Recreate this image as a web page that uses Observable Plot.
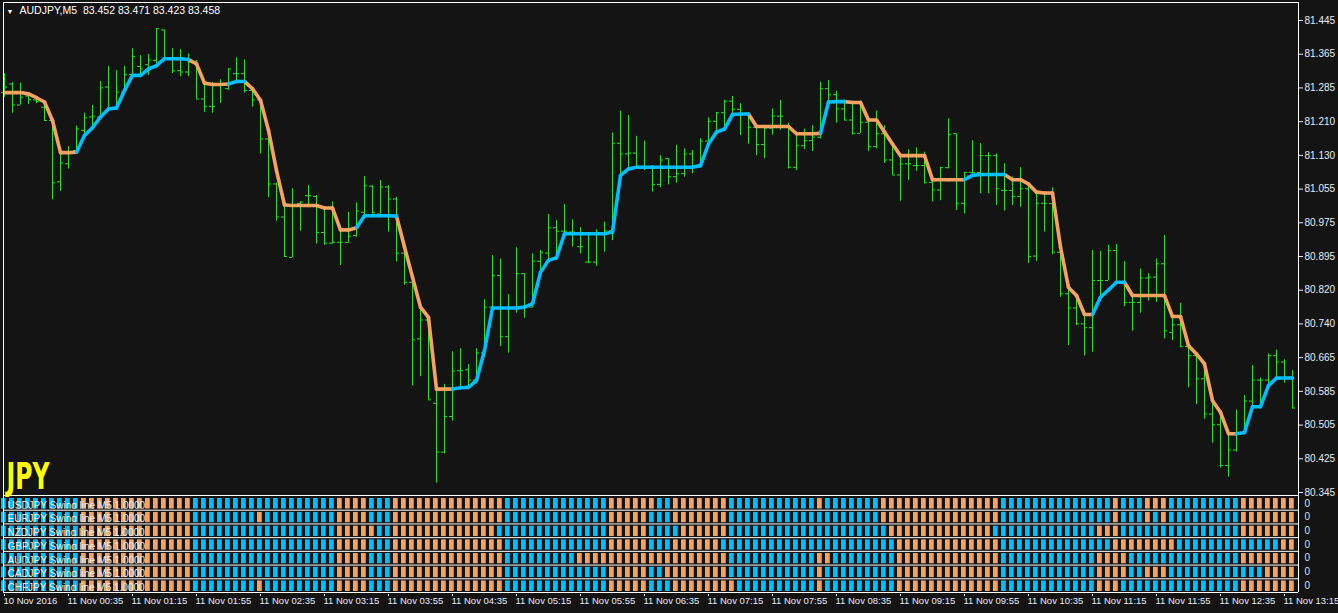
<!DOCTYPE html>
<html><head><meta charset="utf-8">
<script src="https://cdn.jsdelivr.net/npm/d3@7"></script>
<script src="https://cdn.jsdelivr.net/npm/@observablehq/plot@0.6"></script>
<style>
html,body{margin:0;padding:0;background:#141414;overflow:hidden}
#chart{width:1338px;height:613px}
svg{display:block;overflow:visible}
</style></head><body><div id="chart"></div>
<script>
// ---------- data ----------
const symbol = "AUDJPY,M5";
const headerQuote = ["83.452", "83.471", "83.423", "83.458"];
const currencyTag = "JPY";

const xTickLabels = ["10 Nov 2016","11 Nov 00:35","11 Nov 01:15","11 Nov 01:55","11 Nov 02:35","11 Nov 03:15",
  "11 Nov 03:55","11 Nov 04:35","11 Nov 05:15","11 Nov 05:55","11 Nov 06:35","11 Nov 07:15","11 Nov 07:55",
  "11 Nov 08:35","11 Nov 09:15","11 Nov 09:55","11 Nov 10:35","11 Nov 11:15","11 Nov 11:55","11 Nov 12:35","11 Nov 13:15"];
const barsPerXTick = 8;

const yTickLabels = ["81.445","81.365","81.285","81.210","81.130","81.055","80.975","80.895",
  "80.820","80.740","80.665","80.585","80.505","80.425","80.345"];

const open = [
81.277,81.297,81.248,81.269,81.260,81.243,81.212,81.069,81.111,81.142,
81.189,81.220,81.220,81.290,81.241,81.278,81.319,81.338,81.342,81.352,
81.423,81.356,81.328,81.325,81.348,81.262,81.245,81.297,81.286,81.321,
81.321,81.282,81.260,81.169,81.064,80.987,80.893,81.018,81.037,81.035,
80.951,80.926,80.928,80.928,80.944,80.998,81.059,80.994,81.057,81.029,
80.903,80.835,80.703,80.747,80.553,80.439,80.522,80.629,80.631,80.607,
80.670,80.777,80.851,80.708,80.775,80.855,80.777,80.884,80.903,80.962,
80.954,80.952,80.918,80.882,80.882,80.948,80.955,81.159,81.134,81.136,
81.105,81.105,81.063,81.123,81.081,81.088,81.134,81.103,81.164,81.210,
81.230,81.257,81.238,81.226,81.196,81.156,81.194,81.222,81.196,81.103,
81.153,81.165,81.173,81.286,81.272,81.239,81.213,81.182,81.208,81.151,
81.181,81.120,81.085,81.111,81.107,81.107,81.068,81.050,81.102,81.181,
81.019,81.091,81.091,81.130,81.130,81.049,81.049,81.035,81.053,80.896,
81.019,81.018,80.905,80.808,80.775,80.738,80.729,80.839,80.839,80.909,
80.835,80.788,80.788,80.845,80.847,80.878,80.718,80.736,80.685,80.664,
80.610,80.528,80.503,80.408,80.444,80.482,80.558,80.607,80.607,80.664,
80.649,80.614];
const high = [
81.321,81.300,81.299,81.270,81.265,81.247,81.212,81.134,81.151,81.199,
81.229,81.247,81.303,81.338,81.328,81.338,81.379,81.363,81.366,81.426,
81.423,81.379,81.377,81.367,81.352,81.301,81.301,81.307,81.332,81.358,
81.353,81.282,81.260,81.169,81.066,81.011,81.053,81.022,81.060,81.037,
81.010,81.022,80.957,80.998,81.020,81.081,81.060,81.072,81.060,81.033,
80.913,80.835,80.769,80.755,80.584,80.597,80.673,80.680,80.643,80.680,
80.794,80.897,80.889,80.806,80.915,80.855,80.901,80.909,80.993,80.979,
81.016,80.980,80.962,80.944,80.957,80.975,81.183,81.234,81.224,81.175,
81.164,81.107,81.130,81.123,81.154,81.146,81.142,81.169,81.218,81.230,
81.259,81.268,81.251,81.227,81.200,81.195,81.239,81.259,81.206,81.185,
81.192,81.200,81.301,81.305,81.280,81.259,81.251,81.251,81.212,81.234,
81.200,81.154,81.128,81.144,81.148,81.138,81.080,81.103,81.216,81.181,
81.091,81.165,81.158,81.137,81.134,81.111,81.080,81.102,81.060,81.045,
81.041,81.055,80.909,80.820,80.804,80.769,80.909,80.907,80.921,80.923,
80.883,80.800,80.866,80.855,80.889,80.944,80.755,80.786,80.687,80.668,
80.645,80.551,80.528,80.482,80.537,80.571,80.641,80.612,80.668,80.677,
80.654,80.629];
const low = [
81.266,81.229,81.248,81.249,81.251,81.212,81.027,81.047,81.099,81.134,
81.177,81.189,81.212,81.239,81.239,81.278,81.317,81.313,81.317,81.344,
81.352,81.321,81.314,81.314,81.262,81.231,81.229,81.252,81.282,81.301,
81.276,81.243,81.134,81.032,80.977,80.893,80.892,80.954,81.014,80.924,
80.921,80.924,80.874,80.926,80.940,80.990,80.994,80.994,80.952,80.882,
80.828,80.593,80.615,80.561,80.367,80.435,80.511,80.590,80.590,80.598,
80.660,80.761,80.685,80.670,80.763,80.751,80.775,80.855,80.886,80.889,
80.948,80.917,80.901,80.878,80.872,80.905,80.932,81.080,81.103,81.103,
81.095,81.045,81.055,81.062,81.066,81.080,81.088,81.103,81.151,81.181,
81.195,81.220,81.177,81.157,81.130,81.123,81.178,81.189,81.099,81.095,
81.144,81.140,81.169,81.255,81.206,81.212,81.178,81.182,81.140,81.146,
81.112,81.085,81.024,81.072,81.094,81.064,81.022,81.025,81.099,81.002,
80.994,81.088,81.041,81.041,81.014,81.001,81.014,81.010,80.879,80.884,
80.952,80.899,80.800,80.687,80.734,80.663,80.672,80.800,80.839,80.835,
80.778,80.721,80.763,80.791,80.788,80.703,80.699,80.684,80.589,80.550,
80.516,80.460,80.402,80.381,80.439,80.482,80.544,80.551,80.598,80.614,
80.600,80.540];
const close = [
81.290,81.248,81.266,81.261,81.256,81.212,81.067,81.113,81.138,81.192,
81.218,81.222,81.288,81.241,81.278,81.319,81.361,81.332,81.353,81.426,
81.356,81.328,81.325,81.348,81.262,81.245,81.245,81.297,81.332,81.321,
81.282,81.260,81.169,81.064,80.987,80.895,81.014,81.022,81.037,80.951,
80.926,80.928,80.928,80.942,81.001,81.060,80.997,81.057,81.029,80.903,
80.835,80.701,80.747,80.561,80.439,80.522,80.628,80.629,80.607,80.670,
80.777,80.851,80.708,80.775,80.855,80.777,80.884,80.905,80.962,80.954,
80.954,80.952,80.918,80.882,80.948,80.955,81.159,81.134,81.136,81.105,
81.105,81.063,81.120,81.081,81.088,81.134,81.103,81.164,81.210,81.230,
81.257,81.238,81.227,81.196,81.156,81.194,81.222,81.222,81.103,81.153,
81.165,81.173,81.286,81.272,81.239,81.213,81.182,81.208,81.151,81.181,
81.120,81.085,81.111,81.111,81.107,81.068,81.050,81.102,81.179,81.019,
81.091,81.091,81.130,81.130,81.053,81.049,81.035,81.053,80.895,81.019,
81.019,80.905,80.808,80.775,80.738,80.729,80.839,80.839,80.909,80.835,
80.788,80.788,80.845,80.847,80.878,80.722,80.736,80.685,80.664,80.610,
80.528,80.503,80.408,80.444,80.482,80.558,80.607,80.607,80.664,80.649,
80.614,80.542];
const swing = [
81.277,81.277,81.277,81.274,81.265,81.255,81.212,81.137,81.137,81.138,
81.177,81.195,81.220,81.239,81.241,81.282,81.317,81.317,81.332,81.340,
81.356,81.356,81.356,81.354,81.344,81.299,81.296,81.296,81.297,81.303,
81.303,81.286,81.259,81.189,81.095,81.015,81.014,81.014,81.014,81.014,
81.008,81.008,80.957,80.957,80.962,80.990,80.990,80.990,80.990,80.989,
80.917,80.847,80.777,80.753,80.586,80.586,80.586,80.589,80.590,80.606,
80.676,80.775,80.775,80.775,80.775,80.777,80.785,80.858,80.886,80.892,
80.948,80.948,80.948,80.948,80.948,80.948,80.952,81.084,81.099,81.103,
81.103,81.103,81.103,81.103,81.103,81.103,81.103,81.107,81.157,81.185,
81.192,81.226,81.227,81.227,81.198,81.198,81.198,81.198,81.198,81.181,
81.181,81.181,81.182,81.255,81.256,81.256,81.254,81.254,81.213,81.213,
81.185,81.157,81.130,81.130,81.130,81.130,81.074,81.074,81.074,81.074,
81.074,81.084,81.086,81.086,81.086,81.086,81.074,81.074,81.064,81.045,
81.043,81.043,80.917,80.823,80.804,80.760,80.760,80.800,80.817,80.835,
80.835,80.804,80.804,80.804,80.804,80.804,80.755,80.755,80.687,80.668,
80.645,80.559,80.532,80.482,80.482,80.485,80.545,80.545,80.594,80.612,
80.612,80.612];
// swing line direction as run lengths, first run "down"
const swingRuns = [9,14,5,2,14,5,7,37,9,3,15,5,11,4,14,8];

// sub-window rows: run lengths of up/down cells, first run "up"
const rowNames = ["USDJPY","EURJPY","NZDJPY","GBPJPY","AUDJPY","CADJPY","CHFJPY"];
const rowSuffix = " Swing line M5 1.0000";
const rowValue = "0";
const usdjpyRuns = [10,14,18,4,3,14,13,6,2,7,11,1,7,15,14,1,3,3,9,7];
const eurjpyRuns = [10,14,8,1,9,4,3,14,13,5,3,7,19,15,14,1,3,1,1,1,9,7];
const nzdjpyRuns = [10,14,18,5,2,13,14,5,4,6,20,13,13,3,15,7];
const gbpjpyRuns = [10,14,18,4,3,14,13,5,3,6,22,13,14,8,13,2];
const audjpyRuns = [10,14,18,4,3,14,9,19,11,2,8,13,12,4,14,7];
const cadjpyRuns = [10,14,18,4,3,14,13,5,2,8,11,1,9,13,12,4,2,3,12,4];
const chfjpyRuns = [10,14,8,1,9,4,3,14,13,5,3,8,10,1,9,13,12,3,15,7];

// ---------- styling ----------
const BG = "#141414", UP = "#00bfff", DOWN = "#f4a460", BAR = "#22e622", TXT = "#e6ecf5";
const FONT = "'Liberation Sans', Arial, sans-serif";
const W = 1338, ML = 3, MR = 40, PX_PER_BAR = 8;

function expand(runs, first) {
  const out = []; let dir = first;
  for (const n of runs) { for (let k = 0; k < n; k++) out.push(dir); dir = dir === "up" ? "down" : "up"; }
  return out;
}

const n = open.length;
const xStart = -0.125;
const xDomain = [xStart, xStart + (W - ML - MR) / PX_PER_BAR];
const xTickIdx = xTickLabels.map((_, k) => k * barsPerXTick);

const bars = d3.range(n).map(i => ({i, open: open[i], high: high[i], low: low[i], close: close[i]}));
const swingDir = expand(swingRuns, "down");
const segs = d3.range(n - 1).map(i => ({i, s0: swing[i], s1: swing[i + 1], dir: swingDir[i]}));

// y layout: first label at y=20, last label at y=492 inside a frame spanning y=2..495
const yTop = +yTickLabels[0], yBot = +yTickLabels[yTickLabels.length - 1];
const yStep = (yTop - yBot) / (yTickLabels.length - 1);
const pxPerPrice = (492 - 20) / (yTop - yBot);
const yDomain = [yBot - (495 - 492) / pxPerPrice, yTop + (20 - 2) / pxPerPrice];
const yTicks = yTickLabels.map((_, k) => yTop - k * yStep);

const main = Plot.plot({
  width: W, height: 496, marginLeft: ML, marginRight: MR, marginTop: 2, marginBottom: 1,
  style: {background: "transparent", color: TXT, fontFamily: FONT, fontSize: "10px", overflow: "visible"},
  x: {domain: xDomain, axis: null},
  y: {domain: yDomain, axis: "right", ticks: yTicks, label: null, tickSize: 4, tickPadding: 2,
      tickFormat: d => yTickLabels[Math.round((yTop - d) / yStep)]},
  marks: [
    Plot.ruleX(bars, {x: "i", y1: "low", y2: "high", stroke: BAR, strokeWidth: 1}),
    Plot.ruleY(bars, {y: "open", x1: d => d.i - 0.375, x2: "i", stroke: BAR}),
    Plot.ruleY(bars, {y: "close", x1: "i", x2: d => d.i + 0.375, stroke: BAR}),
    Plot.link(segs.filter(d => d.dir === "down"), {x1: "i", x2: d => d.i + 1, y1: "s0", y2: "s1",
      stroke: DOWN, strokeWidth: 3.6, strokeLinecap: "round"}),
    Plot.link(segs.filter(d => d.dir === "up"), {x1: "i", x2: d => d.i + 1, y1: "s0", y2: "s1",
      stroke: UP, strokeWidth: 3.6, strokeLinecap: "round"}),
    Plot.frame({stroke: "#ffffff"}),
    Plot.text(["\u25BC"], {frameAnchor: "top-left", dx: 6.5, dy: 9, fontSize: 7, fill: "#ffffff",
      textAnchor: "middle", lineAnchor: "middle"}),
    Plot.text([symbol + "\u00a0\u00a0" + headerQuote.join(" ")], {frameAnchor: "top-left", dx: 16, dy: 8.5,
      fontSize: 10.5, fill: "#ffffff", textAnchor: "start", lineAnchor: "middle"}),
    Plot.text([currencyTag], {frameAnchor: "bottom-left", dx: 3, dy: -7, textAnchor: "start", lineAnchor: "bottom",
      fill: "#ffff00", fontSize: 37, fontWeight: "bold", fontFamily: "'DejaVu Sans Condensed', 'DejaVu Sans', sans-serif"})
  ]
});
d3.select(main).selectAll("text").filter(function() { return this.textContent === currencyTag; })
  .attr("textLength", 43).attr("lengthAdjust", "spacingAndGlyphs");

// ---------- sub-window ----------
const rowRuns = [usdjpyRuns, eurjpyRuns, nzdjpyRuns, gbpjpyRuns, audjpyRuns, cadjpyRuns, chfjpyRuns];
const cells = [];
rowRuns.forEach((runs, r) => expand(runs, "up").forEach((dir, i) => cells.push({row: r, i, dir})));

const panelMarks = [];
rowNames.forEach((name, r) => {
  const rc = cells.filter(c => c.row === r);
  panelMarks.push(
    Plot.rect(rc.filter(c => c.dir === "up"), {x1: d => d.i - 0.375, x2: d => d.i + 0.22, y1: "row",
      y2: d => d.row + 1, insetTop: 2, insetBottom: 1, fill: UP}),
    Plot.rect(rc.filter(c => c.dir === "down"), {x1: d => d.i - 0.375, x2: d => d.i + 0.22, y1: "row",
      y2: d => d.row + 1, insetTop: 2, insetBottom: 1, fill: DOWN}),
    Plot.text([name + rowSuffix], {x: xDomain[0], y: r + 1, dx: 4, dy: -1.5, textAnchor: "start",
      lineAnchor: "bottom", fill: "#f0f0f0", fontSize: 10})
  );
});
panelMarks.push(
  Plot.ruleY(d3.range(1, rowNames.length + 1), {stroke: BG, strokeWidth: 3}),
  Plot.ruleY(d3.range(1, rowNames.length + 1), {stroke: "#ffffff"}),
  Plot.ruleX(xDomain, {stroke: "#ffffff"}),
  Plot.text(rowNames, {x: xDomain[1], y: (d, r) => r + 0.5, dx: 6, text: () => rowValue, textAnchor: "start",
    fill: "#cfe0f5", fontSize: 10}),
  Plot.text(xTickIdx, {x: d => d, text: (d, k) => xTickLabels[k], frameAnchor: "bottom", dy: 5, dx: -1,
    lineAnchor: "top", textAnchor: "start", fill: TXT, fontSize: 9.5})
);

const panel = Plot.plot({
  width: W, height: 117, marginLeft: ML, marginRight: MR, marginTop: 0, marginBottom: 21,
  style: {background: "transparent", color: TXT, fontFamily: FONT, fontSize: "10px"},
  x: {domain: xDomain, axis: "bottom", ticks: xTickIdx, tickFormat: () => "", tickSize: 4, label: null},
  y: {domain: [0, rowNames.length], reverse: true, axis: null},
  marks: panelMarks
});

const root = document.getElementById("chart");
root.appendChild(main);
root.appendChild(panel);
</script>
</body></html>
